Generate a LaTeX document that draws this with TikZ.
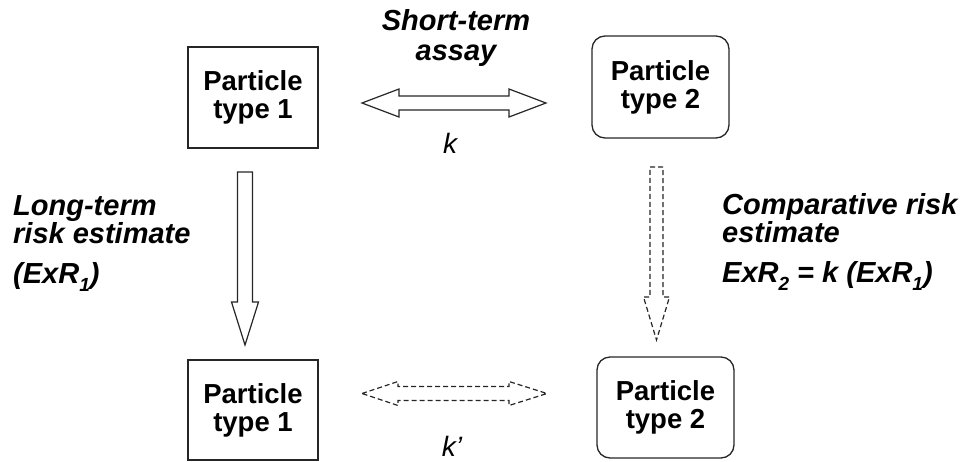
\documentclass[tikz,border=0pt]{standalone}
\usepackage{fontspec}
\setmainfont{Liberation Sans}
\usetikzlibrary{calc}
\newcommand{\sbs}[1]{\raisebox{-0.28em}{\fontsize{19}{19}\selectfont #1}}
\tikzset{
  boxfont/.style={font=\fontsize{27.5}{28}\selectfont\bfseries, align=center},
  lblfont/.style={font=\fontsize{29}{28.5}\selectfont\bfseries\itshape, inner sep=0pt},
  kfont/.style={font=\fontsize{28}{28}\selectfont\itshape, inner sep=0pt},
  sqbox/.style={boxfont, draw=black!85, line width=1.3pt, inner sep=0pt},
  rdbox/.style={boxfont, draw=black!85, line width=1.3pt, inner sep=0pt, rounded corners=13pt},
  blockarrow/.style={draw=black!85, line width=1.2pt, fill=white, line join=miter},
  dashedarrow/.style={blockarrow, dash pattern=on 5pt off 3pt},
}
\begin{document}
\begin{tikzpicture}[x=1pt,y=-1pt]
\useasboundingbox (0,0) rectangle (969,461);
% boxes
\node[sqbox, minimum width=130pt, minimum height=101pt] (p1a) at (253,97.5) {Particle\\type 1};
\node[rdbox, minimum width=137pt, minimum height=102pt] (p2a) at (660.5,87) {Particle\\type 2};
\node[sqbox, minimum width=130pt, minimum height=100pt] (p1b) at (253,410) {Particle\\type 1};
\node[rdbox, minimum width=137pt, minimum height=101pt] (p2b) at (665.5,407.5) {Particle\\type 2};
% top double arrow
\coordinate (a1l) at (362,103);
\coordinate (a1r) at (546,103);
\draw[blockarrow] (a1l) -- ++(37,-14) -- ++(0,7) -- ($(a1r)+(-37,-7)$) -- ++(0,-7) -- (a1r)
  -- ++(-37,14) -- ++(0,-7) -- ($(a1l)+(37,7)$) -- ++(0,7) -- cycle;
% bottom dashed double arrow
\coordinate (a2l) at (362,393.5);
\coordinate (a2r) at (547,393.5);
\draw[dashedarrow] (a2l) -- ++(36,-12) -- ++(0,5) -- ($(a2r)+(-38,-7)$) -- ++(0,-5) -- (a2r)
  -- ++(-38,12) -- ++(0,-5) -- ($(a2l)+(36,7)$) -- ++(0,5) -- cycle;
% left vertical arrow
\coordinate (v1t) at (245,172);
\coordinate (v1b) at (245,345);
\draw[blockarrow] ($(v1t)+(-7.5,0)$) -- ($(v1t)+(7.5,0)$) -- ($(v1b)+(7.5,-43)$) -- ++(6,0) -- (v1b)
  -- ($(v1b)+(-13.5,-43)$) -- ++(6,0) -- cycle;
% right vertical dashed arrow
\coordinate (v2t) at (656.5,167);
\coordinate (v2b) at (656.5,340);
\draw[dashedarrow] ($(v2t)+(-6.5,0)$) -- ($(v2t)+(6.5,0)$) -- ($(v2b)+(6.5,-43)$) -- ++(6.5,0) -- (v2b)
  -- ($(v2b)+(-13,-43)$) -- ++(6.5,0) -- cycle;
% labels
\node[lblfont, align=center, anchor=base] (st) at (456,60) {Short-term\\[1.5pt]assay};
\node[kfont, anchor=base] (k1) at (450,153) {k};
\node[kfont, anchor=base] (k2) at (452,456) {k’};
\node[lblfont, align=left, anchor=base west] (lt) at (13,283) {Long-term\\risk estimate\\[11pt](ExR\sbs{1})};
\node[lblfont, align=left, anchor=base west] (cr) at (722,282) {Comparative risk\\estimate\\[11pt]ExR\sbs{2} = k (ExR\sbs{1})};
\end{tikzpicture}
\end{document}
